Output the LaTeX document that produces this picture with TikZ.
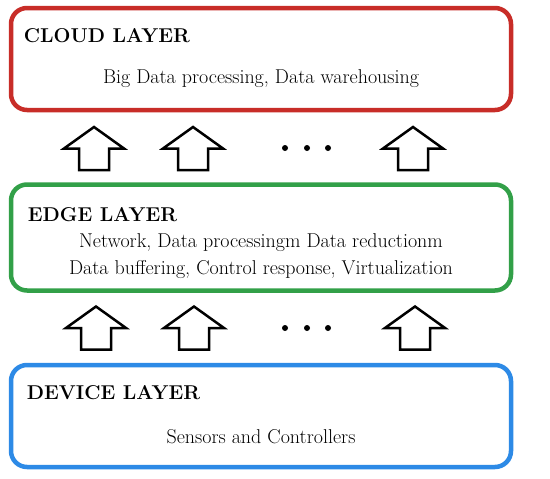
\documentclass[tikz,border=0pt]{standalone}
\usepackage{tikz}
\usetikzlibrary{positioning}
\definecolor{cloudred}{RGB}{200,45,40}
\definecolor{edgegreen}{RGB}{50,160,72}
\definecolor{devblue}{RGB}{45,138,230}
\tikzset{
  layer/.style={
    rectangle, rounded corners=16pt, line width=4.5pt, fill=white,
    minimum width=500pt, minimum height=102pt
  },
  layertitle/.style={
    font=\fontsize{20}{24}\selectfont\bfseries, anchor=base west, inner sep=0pt
  },
  layerbody/.style={
    font=\fontsize{20}{27}\selectfont, align=center, anchor=base, inner sep=0pt
  },
  arrowline/.style={draw=black, line width=2.5pt, fill=white, line join=miter},
  pics/uparrow/.style={
    code={
      \draw[arrowline] (-15,21.5) -- (-15,0) -- (-30,0) -- (0,-21.5)
        -- (30,0) -- (15,0) -- (15,21.5) -- cycle;
    }
  },
  dotmark/.style={circle, fill=black, inner sep=0pt, minimum size=6pt},
}

\begin{document}
\begin{tikzpicture}[x=1pt, y=-1pt, node distance=70pt]
  \useasboundingbox (0,0) rectangle (550,479);

  % Layers
  \node[layer, draw=cloudred] (cloud) at (261,59) {};
  \node[layer, draw=edgegreen, minimum height=106pt, below=of cloud] (edge) {};
  \node[layer, draw=devblue, below=of edge] (device) {};

  % Layer titles
  \node[layertitle] (cloudtitle) at ([xshift=15pt, yshift=-37pt]cloud.north west) {CLOUD LAYER};
  \node[layertitle] (edgetitle) at ([xshift=19pt, yshift=-39pt]edge.north west) {EDGE LAYER};
  \node[layertitle] (devicetitle) at ([xshift=18pt, yshift=-37pt]device.north west) {DEVICE LAYER};

  % Layer contents
  \node[layerbody] (cloudtext) at ([yshift=-24pt]cloud.center) {Big Data processing, Data warehousing};
  \node[layerbody] (edgetext) at ([yshift=-37pt]edge.center)
        {Network, Data processingm Data reductionm\\Data buffering, Control response, Virtualization};
  \node[layerbody] (devicetext) at ([yshift=-27pt]device.center) {Sensors and Controllers};

  % Arrows edge -> cloud
  \foreach \x [count=\i] in {94,193,413}
    \pic (upcloud\i) at (\x,148.5) {uparrow};
  \foreach \x [count=\i] in {285,307,328}
    \node[dotmark] (dotcloud\i) at (\x,148) {};

  % Arrows device -> edge
  \foreach \x [count=\i] in {96,194,415}
    \pic (upedge\i) at (\x,328) {uparrow};
  \foreach \x [count=\i] in {285,307,328}
    \node[dotmark] (dotedge\i) at (\x,328) {};

\end{tikzpicture}
\end{document}
